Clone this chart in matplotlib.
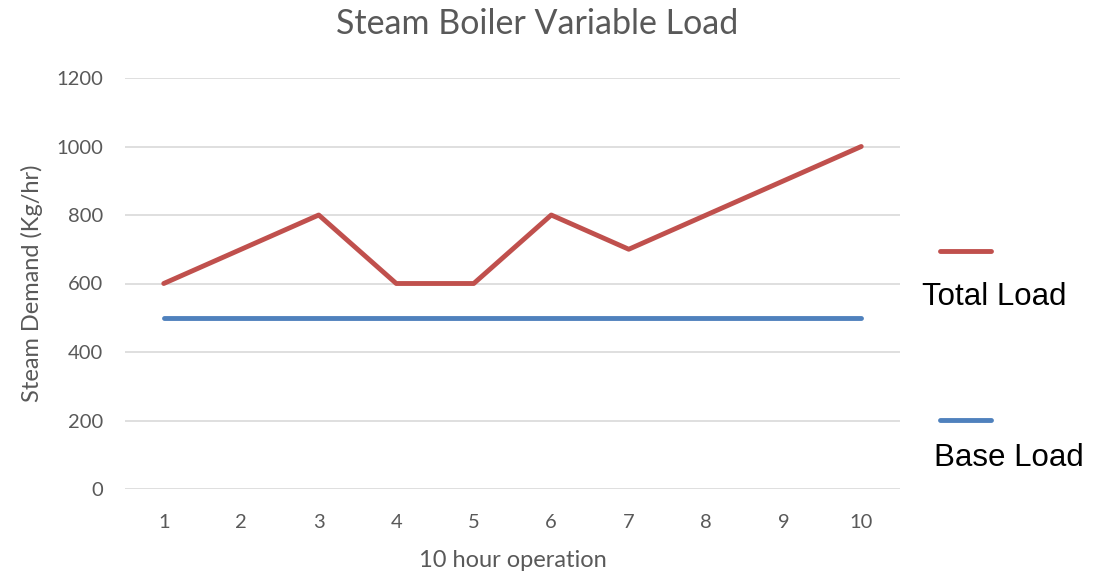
import matplotlib.pyplot as plt
from matplotlib.lines import Line2D

hours = [1, 2, 3, 4, 5, 6, 7, 8, 9, 10]
total_load = [600, 700, 800, 600, 600, 800, 700, 800, 900, 1000]
base_load = [500, 500, 500, 500, 500, 500, 500, 500, 500, 500]

red = "#C0504D"
blue = "#4F81BD"
grey = "#595959"

plt.rcParams['font.family'] = ['Lato', 'DejaVu Sans']

fig = plt.figure(figsize=(11.12, 5.71), dpi=100)
ax = fig.add_axes([125/1112, 1 - 489/571, 775/1112, 411/571])

ax.plot(hours, total_load, color=red, lw=3.5, solid_capstyle='round', solid_joinstyle='round', zorder=3)
ax.plot(hours, base_load, color=blue, lw=3.5, solid_capstyle='round', solid_joinstyle='round', zorder=3)

ax.set_xlim(0.5, 10.5)
ax.set_ylim(0, 1200)
ax.set_xticks(hours)
ax.set_yticks(range(0, 1201, 200))
ax.grid(True, axis='y', color='#D9D9D9', lw=1.2)
ax.set_axisbelow(True)
for s in ax.spines.values():
    s.set_visible(False)
ax.tick_params(length=0, labelsize=14.5, colors=grey)
ax.tick_params(axis='x', pad=18)
ax.tick_params(axis='y', pad=16)
ax.set_xlabel("10 hour operation", fontsize=17, color=grey, labelpad=14)
ax.set_ylabel("Steam Demand (Kg/hr)", fontsize=17, color=grey, labelpad=9)

fig.text(537/1112, 1 - 24/571, "Steam Boiler Variable Load", ha='center', va='center',
         fontsize=24.5, color=grey)

# legend, text placed under each line
fig.add_artist(Line2D([940/1112, 991/1112], [1 - 251/571] * 2, color=red, lw=3.5, solid_capstyle='round'))
fig.add_artist(Line2D([940/1112, 991/1112], [1 - 420/571] * 2, color=blue, lw=3.5, solid_capstyle='round'))
fig.text(994/1112, 1 - 297/571, "Total Load", ha='center', va='center', fontsize=22.5,
         family='Liberation Sans', color='black')
fig.text(1009/1112, 1 - 458/571, "Base Load", ha='center', va='center', fontsize=22.5,
         family='Liberation Sans', color='black')

fig.savefig("out.png", dpi=100)
